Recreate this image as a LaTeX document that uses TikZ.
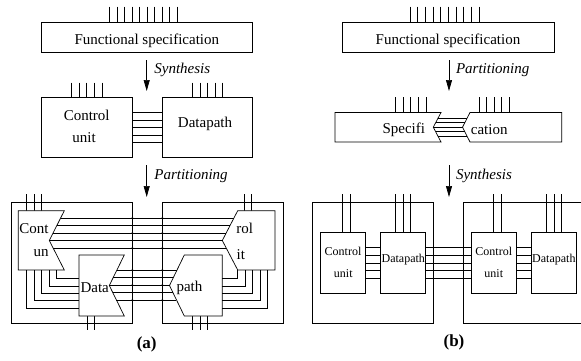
\documentclass[tikz,border=0pt]{standalone}
\usepackage{fontspec}
\setmainfont{Liberation Serif}
\usetikzlibrary{arrows.meta}
\begin{document}
\begin{tikzpicture}[x=1pt,y=-1pt,line width=0.7pt,
  lbl/.style={font=\fontsize{15}{18}\selectfont,inner sep=0pt},
  slbl/.style={font=\fontsize{12}{14}\selectfont,inner sep=0pt},
  steplbl/.style={font=\fontsize{15}{18}\selectfont\itshape,inner sep=0pt,anchor=west},
  caplbl/.style={font=\fontsize{17}{20}\selectfont\bfseries,inner sep=0pt},
  flow/.style={-{Triangle[length=11pt,width=6pt]}},
  jdot/.style={circle,fill,inner sep=0pt,minimum size=2pt}]
\useasboundingbox (0,0) rectangle (581,360);

% ================= (a) =================
% functional specification
\draw (41.3,22) rectangle (252.3,52.3);
\node[lbl] (fsa) at (146.8,40.5) {Functional specification};
\foreach \i in {0,...,9} \draw ({109.3+7.55*\i},6.7) -- ({109.3+7.55*\i},22);
\coordinate (a1s) at (146.7,60); \coordinate (a1e) at (146.7,91);
\draw[flow] (a1s) -- (a1e);
\node[steplbl] (synA) at (154,70) {Synthesis};

% control unit / datapath
\draw (41.3,97.3) rectangle (132,157.3);
\draw (162.3,97.3) rectangle (252.3,157.3);
\node[lbl] (cuA1) at (86.7,115.5) {Control};
\node[lbl] (cuA2) at (84,137.5) {unit};
\node[lbl] (dpA) at (205,123.5) {Datapath};
\foreach \i in {0,...,4} \draw ({71.3+7.67*\i},82.7) -- ({71.3+7.67*\i},97.3);
\foreach \i in {0,...,4} \draw ({192.7+7.5*\i},82.7) -- ({192.7+7.5*\i},97.3);
\foreach \y in {112.7,120.2,127.7,135.2,142.7} \draw (132,\y) -- (162.3,\y);

\coordinate (a2s) at (146.7,165); \coordinate (a2e) at (146.7,197);
\draw[flow] (a2s) -- (a2e);
\node[steplbl] (partA) at (154,176) {Partitioning};

% partitioned chips
\draw (11,202.3) rectangle (132.3,323.3);
\draw (162.3,202.3) rectangle (283.5,323.3);
% pins
\foreach \x in {26.7,34.3,41.3} \draw (\x,194) -- (\x,210.7);
\foreach \x in {244.3,251.7} \draw (\x,194) -- (\x,210.7);
\foreach \x in {87.3,94.3} \draw (\x,316) -- (\x,330);
\foreach \x in {192.3,200,207.3} \draw (\x,316) -- (\x,330);
% shapes
\draw[fill=white] (18.3,210.7) -- (64.3,210.7) -- (49.3,240.5) -- (64.3,270) -- (18.3,270) -- cycle;
\draw[fill=white] (79,255) -- (124.3,255) -- (109.3,285.5) -- (124.3,316) -- (79,316) -- cycle;
\draw[fill=white] (237.7,210.7) -- (275,210.7) -- (275,270) -- (237.7,270) -- (222.3,240.5) -- cycle;
\draw[fill=white] (184.3,255) -- (222.3,255) -- (222.3,316) -- (184.3,316) -- (169.5,285.5) -- cycle;
% control lines
\foreach \y/\xa/\xb in {218/60.6/233.9,225.5/56.8/230.0,233/53.1/226.2,240.5/49.3/222.3,248/53.1/226.2}{
  \draw (\xa,\y) -- (\xb,\y);
  \node[jdot] at (132.3,\y) {};
  \node[jdot] at (162.3,\y) {};
}
% data lines
\foreach \y/\xa/\xb in {270/116.9/177.0,277.5/113.2/173.4,285/109.5/169.7,292.5/112.7/172.9,300/116.4/176.4}{
  \draw (\xa,\y) -- (\xb,\y);
  \node[jdot] at (132.3,\y) {};
  \node[jdot] at (162.3,\y) {};
}
% local L-shaped lines
\foreach \x/\y in {26.7/308.3,34.3/300.7,41.3/293.3,49.3/286,56.7/278.3} \draw (\x,270) |- (79,\y);
\foreach \x/\y in {237.7/278.3,245.3/286,252.7/293.3,260/300.7,267.7/308.3} \draw (\x,270) |- (222.3,\y);
% labels
\node[lbl] (cont) at (34,228.3) {Cont};
\node[lbl] (un) at (41,252.7) {un};
\node[lbl] (data) at (94.7,287.5) {Data};
\node[lbl] (rol) at (244.7,228.3) {rol};
\node[lbl] (it) at (240.8,254.5) {it};
\node[lbl] (path) at (189.5,288.3) {path};
\node[caplbl] (capA) at (146.7,344.7) {(a)};

% ================= (b) =================
\draw (342.3,22) rectangle (554,52.3);
\node[lbl] (fsb) at (448,40.5) {Functional specification};
\foreach \i in {0,...,9} \draw ({410+7.67*\i},6.7) -- ({410+7.67*\i},22);
\coordinate (b1s) at (449,60); \coordinate (b1e) at (449,91);
\draw[flow] (b1s) -- (b1e);
\node[steplbl] (partB) at (455.7,70) {Partitioning};

% split specification
\draw (335,112.5) -- (441,112.5) -- (433.3,127.2) -- (441,142) -- (335,142) -- cycle;
\draw (470,112.5) -- (561.7,112.5) -- (561.7,142) -- (470,142) -- (462.5,127.2) -- cycle;
\foreach \i in {0,...,4} \draw ({395.3+7.67*\i},97.3) -- ({395.3+7.67*\i},112.5);
\foreach \i in {0,...,4} \draw ({479+7.6*\i},97.3) -- ({479+7.6*\i},112.5);
\foreach \y/\xa/\xb in {118/438.1/467.2,122.6/435.7/464.8,127.2/433.3/462.5,131.8/435.7/464.8,136.4/438.1/467.2}
  \draw (\xa,\y) -- (\xb,\y);
\node[lbl] (specifi) at (403.8,129.5) {Specifi};
\node[lbl] (cation) at (489.2,129.5) {cation};

\coordinate (b2s) at (449,165); \coordinate (b2e) at (449,197);
\draw[flow] (b2s) -- (b2e);
\node[steplbl] (synB) at (455.7,176) {Synthesis};

% chips
\draw (312.3,202.3) rectangle (433.3,323.3);
\draw (582,202.3) -- (463.3,202.3) -- (463.3,323.3) -- (582,323.3);
\draw (320,232.3) rectangle (365,293.3);
\draw (380.7,232.3) rectangle (425.7,293.3);
\draw (471,232.3) rectangle (516.7,293.3);
\draw (531.3,232.3) rectangle (576.5,293.3);
\foreach \x in {342.3,350,395.7,403.3,410.7,493.3,501,546.7,554,561.7} \draw (\x,194) -- (\x,232.3);
\foreach \y in {247.7,255.3,263,270.7,278}{
  \draw (365,\y) -- (380.7,\y);
  \draw (425.7,\y) -- (471,\y);
  \draw (516.7,\y) -- (531.3,\y);
}
\node[slbl] (cuB1) at (343,251.7) {Control};
\node[slbl] (cuB2) at (343.3,274) {unit};
\node[slbl] (dpB1) at (403.3,259.3) {Datapath};
\node[slbl] (cuB3) at (493.8,251.7) {Control};
\node[slbl] (cuB4) at (493.8,274) {unit};
\node[slbl] (dpB2) at (553.9,259.3) {Datapath};
\node[caplbl] (capB) at (454,342.7) {(b)};
\end{tikzpicture}
\end{document}
